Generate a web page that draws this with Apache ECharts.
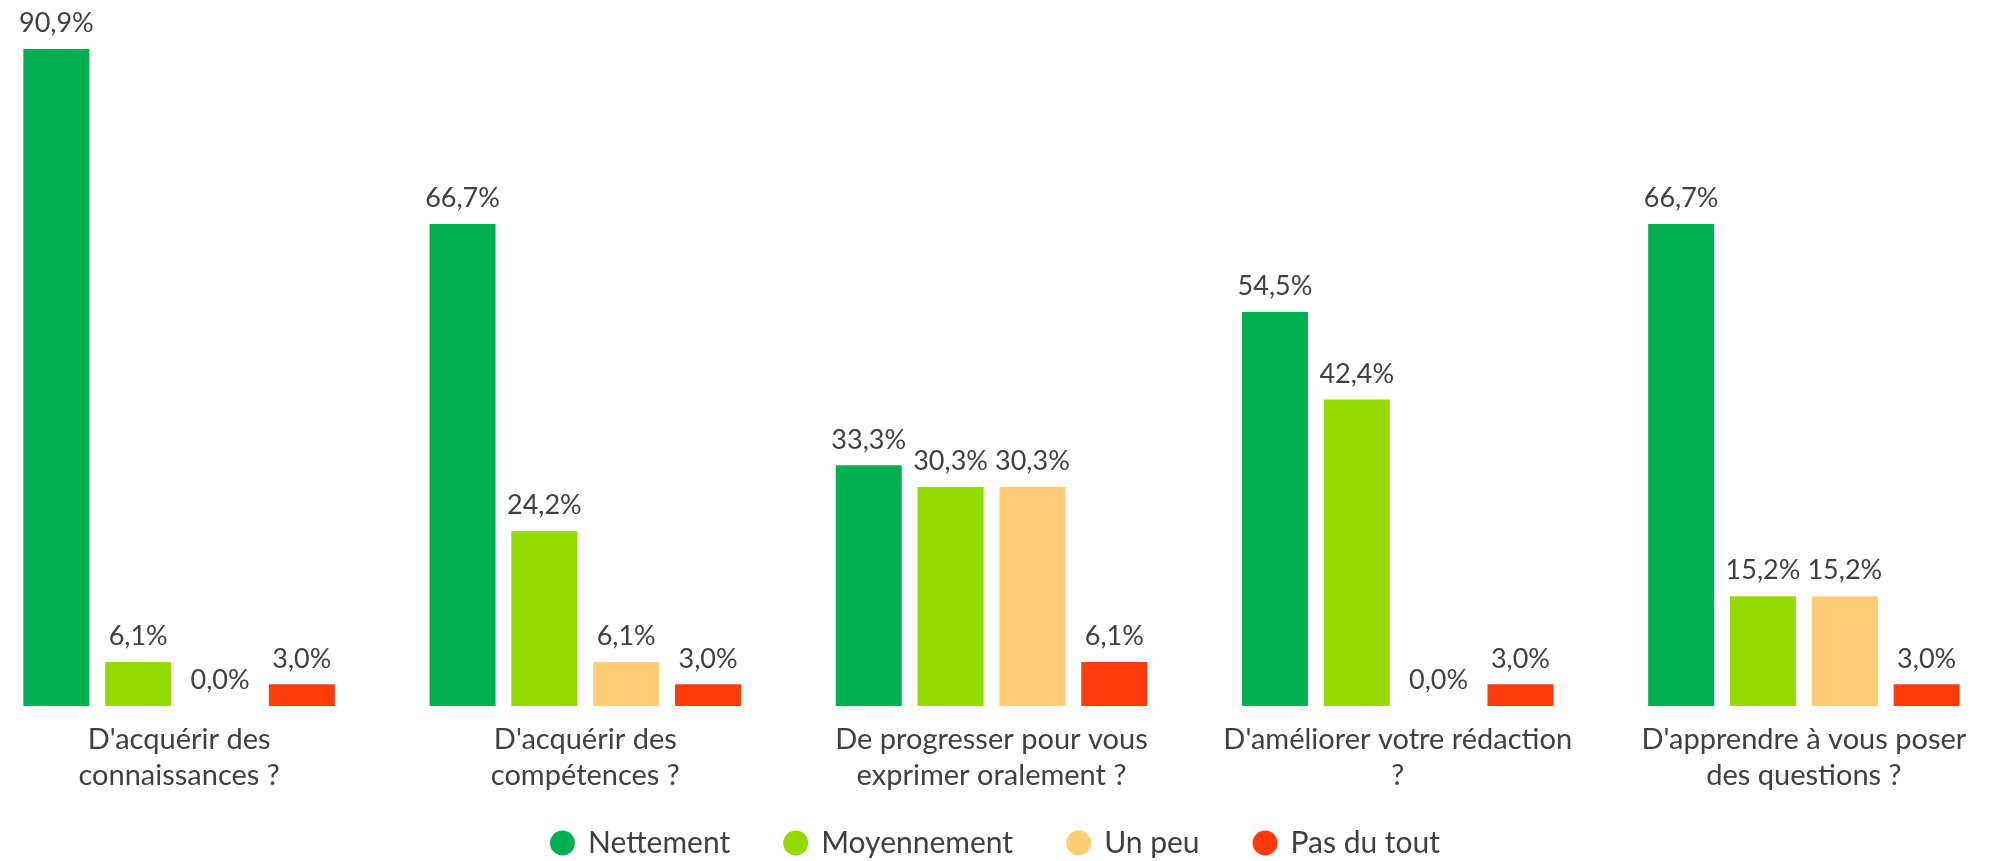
<!DOCTYPE html>
<html>
<head>
<meta charset="utf-8">
<script src="https://cdn.jsdelivr.net/npm/echarts@6/dist/echarts.min.js"></script>
<style>
  html, body { margin: 0; padding: 0; background: #fff; }
  #chart { width: 1990px; height: 861px; }
</style>
</head>
<body>
<div id="chart"></div>
<script>
// categories (questions) and the four answer series, in %
const categories = [
  "D'acquérir des\nconnaissances ?",
  "D'acquérir des\ncompétences ?",
  "De progresser pour vous\nexprimer oralement ?",
  "D'améliorer votre rédaction\n?",
  "D'apprendre à vous poser\ndes questions ?"
];
const seriesNames = ['Nettement', 'Moyennement', 'Un peu', 'Pas du tout'];
const nettement = [90.9, 66.7, 33.3, 54.5, 66.7];
const moyennement = [6.1, 24.2, 30.3, 42.4, 15.2];
const unPeu = [0.0, 6.1, 30.3, 0.0, 15.2];
const pasDuTout = [3.0, 3.0, 6.1, 3.0, 3.0];
const colors = ['#00AF50', '#94D900', '#FFCD75', '#FF3B0B'];

const font = 'Lato, "DejaVu Sans", sans-serif';
const textColor = '#404040';

function fmt(v) {
  return v.toFixed(1).replace('.', ',') + '%';
}

const chart = echarts.init(document.getElementById('chart'));

const allData = [nettement, moyennement, unPeu, pasDuTout];

const option = {
  animation: false,
  grid: {
    left: -24,
    right: -17,
    top: 49,
    bottom: 155,
    containLabel: false,
    outerBoundsMode: 'none'
  },
  legend: {
    bottom: -2,
    left: 'center',
    icon: 'circle',
    itemWidth: 25,
    itemHeight: 25,
    itemGap: 53,
    textStyle: {
      fontFamily: font,
      fontSize: 30,
      color: textColor,
      padding: [0, 0, 0, 8]
    },
    data: seriesNames
  },
  xAxis: {
    type: 'category',
    data: categories,
    axisLine: { show: false },
    axisTick: { show: false },
    axisLabel: {
      interval: 0,
      margin: 16,
      fontFamily: font,
      fontSize: 29,
      lineHeight: 36,
      color: textColor
    }
  },
  yAxis: {
    type: 'value',
    min: 0,
    max: 90.9,
    show: false,
    splitLine: { show: false }
  },
  series: seriesNames.map(function (name, i) {
    return {
      name: name,
      type: 'bar',
      data: allData[i],
      barWidth: 66,
      barGap: '24%',
      itemStyle: { color: colors[i] },
      label: {
        show: true,
        position: 'top',
        distance: 12,
        fontFamily: font,
        fontSize: 27,
        color: textColor,
        formatter: function (p) { return fmt(p.value); }
      }
    };
  })
};

chart.setOption(option);
</script>
</body>
</html>
